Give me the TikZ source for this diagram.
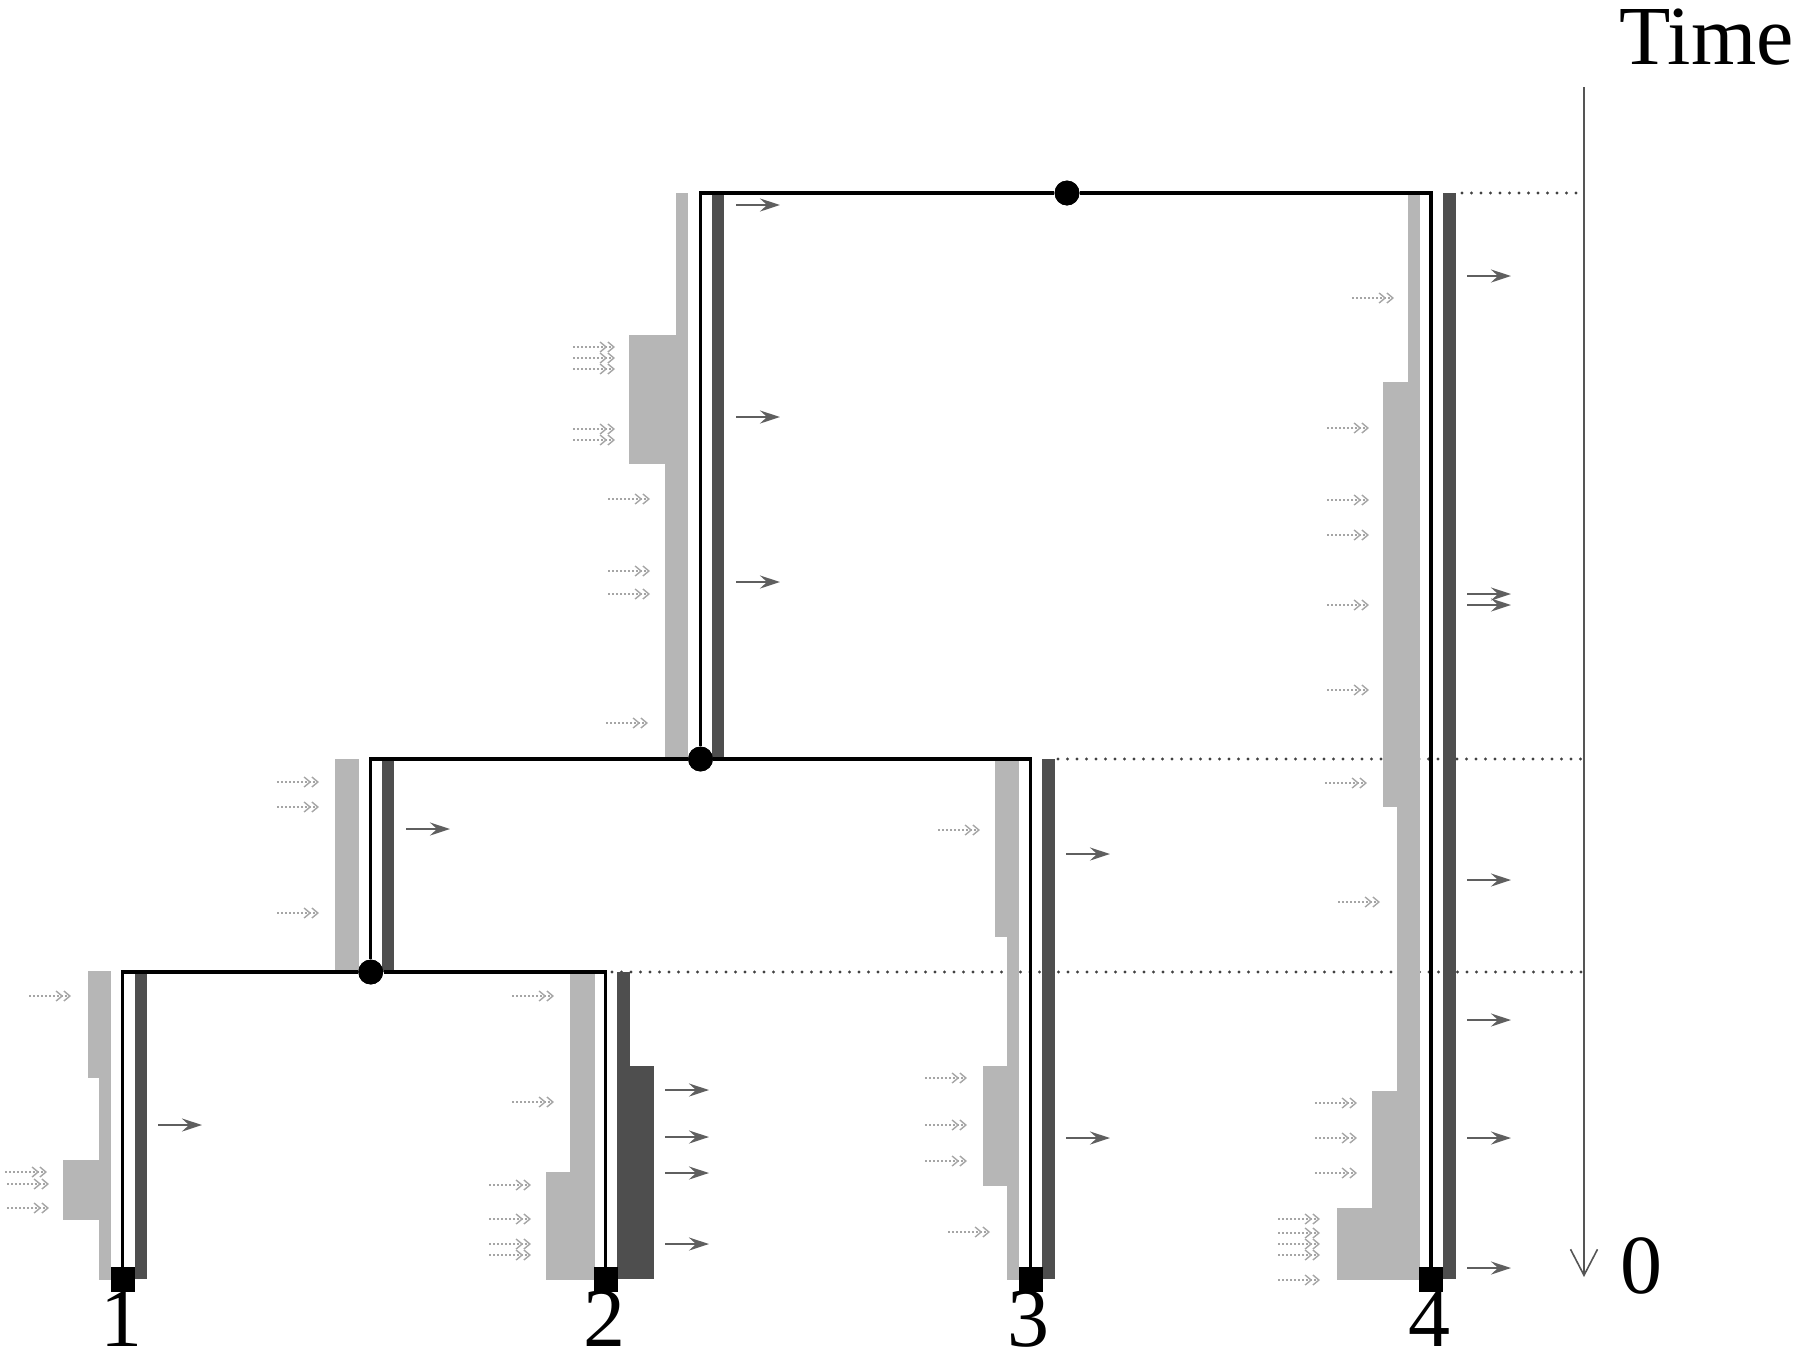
\documentclass[tikz,border=0pt]{standalone}
\usepackage{fontspec}
\setmainfont{Liberation Serif}
\usetikzlibrary{arrows.meta}
\definecolor{lightbar}{RGB}{182,182,182}
\definecolor{darkbar}{RGB}{78,78,78}
\definecolor{arrgrey}{RGB}{95,95,95}
\definecolor{inarrgrey}{RGB}{165,165,165}
\definecolor{dotgrey}{RGB}{85,85,85}
\definecolor{leveldot}{RGB}{65,65,65}
\begin{document}
\begin{tikzpicture}[x=0.5pt,y=-0.5pt,
  treeline/.style={draw=black, line width=1.6pt, line join=miter},
  treedot/.style={circle, fill=black, inner sep=0pt, minimum size=12.4pt},
  leafsq/.style={rectangle, fill=black, inner sep=0pt, minimum width=12pt, minimum height=12.5pt},
  lbar/.style={fill=lightbar},
  dbar/.style={fill=darkbar},
  dotline/.style={draw=leveldot, line width=1.7pt, line cap=round, dash pattern=on 0pt off 4.75pt},
  outarr/.style={draw=arrgrey, line width=1.3pt, -{Stealth[length=10pt,width=6.5pt,inset=3.5pt]}},
  inarr/.style={draw=inarrgrey, line width=0.7pt, dash pattern=on 1pt off 1pt, -{Straight Barb[length=3pt,width=5pt] Straight Barb[length=3pt,width=5pt]}},
  axisline/.style={draw=dotgrey, line width=0.8pt, -{Straight Barb[length=13pt,width=13.5pt]}},
  lab/.style={font=\fontsize{42}{50}\selectfont, inner sep=0pt}]
\useasboundingbox (0,0) rectangle (1800,1357);

% dotted time levels
\coordinate (d1s) at (1462,193);
\coordinate (d1e) at (1584,193);
\coordinate (d2s) at (1058,759);
\coordinate (d2e) at (1584,759);
\coordinate (d3s) at (612,972);
\coordinate (d3e) at (1584,972);
\draw[dotline] (d1s) -- (d1e);
\draw[dotline] (d2s) -- (d2e);
\draw[dotline] (d3s) -- (d3e);

% light grey bars
% lineage 1
\fill[lbar] (88,971) rectangle (111,1078);
\fill[lbar] (99,1078) rectangle (111,1160);
\fill[lbar] (63,1160) rectangle (111,1220);
\fill[lbar] (99,1220) rectangle (111,1280);
% lineage 2
\fill[lbar] (570,972) rectangle (595,1172);
\fill[lbar] (546,1172) rectangle (595,1280);
% lineage 3
\fill[lbar] (995,759) rectangle (1019.3,937);
\fill[lbar] (1006.7,937) rectangle (1019.3,1066);
\fill[lbar] (983,1066) rectangle (1019.3,1186);
\fill[lbar] (1006.7,1186) rectangle (1019.3,1280);
% lineage 4
\fill[lbar] (1408,193) rectangle (1420,382);
\fill[lbar] (1383,382) rectangle (1420,807);
\fill[lbar] (1397,807) rectangle (1420,1091);
\fill[lbar] (1372,1091) rectangle (1420,1208);
\fill[lbar] (1337,1208) rectangle (1420,1280);
% lineage B
\fill[lbar] (335,759) rectangle (359.3,972);
% lineage A
\fill[lbar] (676,193) rectangle (688,335);
\fill[lbar] (629,335) rectangle (688,464);
\fill[lbar] (665,464) rectangle (688,759);

% dark grey bars
\fill[dbar] (134.7,972) rectangle (146.7,1279);
\fill[dbar] (617,972) rectangle (630,1066);
\fill[dbar] (617,1066) rectangle (654,1279);
\fill[dbar] (1041.7,759) rectangle (1055,1279);
\fill[dbar] (1443,193) rectangle (1456,1279);
\fill[dbar] (381.7,759) rectangle (394.3,972);
\fill[dbar] (711.7,193) rectangle (724,759);

% tree
\node[treedot] (root) at (1067,193) {};
\node[treedot] (n2) at (700.5,759) {};
\node[treedot] (n1) at (370.7,972) {};
\node[leafsq] (l1) at (122.8,1279.5) {};
\node[leafsq] (l2) at (605.5,1279.5) {};
\node[leafsq] (l3) at (1030.8,1279.5) {};
\node[leafsq] (l4) at (1431,1279.5) {};
\draw[treeline] (root) -| (n2);
\draw[treeline] (root) -| (l4);
\draw[treeline] (n2) -| (n1);
\draw[treeline] (n2) -| (l3);
\draw[treeline] (n1) -| (l1);
\draw[treeline] (n1) -| (l2);
\node[treedot] at (root) {};
\node[treedot] at (n2) {};
\node[treedot] at (n1) {};

% outgoing (solid) arrows
\foreach \x/\y in {158/1125,
  665/1090, 665/1137, 665/1173, 665/1244,
  1066/854, 1066/1138,
  1467/276, 1467/594, 1467/605, 1467/880, 1467/1020, 1467/1138, 1467/1268,
  406/829,
  736/205, 736/417, 736/582}
  \draw[outarr] (\x,\y) -- ++(44,0);

% incoming (dotted) arrows
\foreach \x/\y in {29/996, 5/1172, 7/1184, 7/1208,
  512/996, 512/1102, 489/1185, 489/1219, 489/1244, 489/1255,
  938/830, 925/1078, 925/1125, 925/1161, 948/1232,
  1352/298, 1327/428, 1327/500, 1327/535, 1327/605, 1327/690, 1325/783, 1338/902,
  1315/1103, 1315/1138, 1315/1173,
  1278/1219, 1278/1233, 1278/1244, 1278/1255, 1278/1280,
  277/782, 277/807, 277/913,
  573/347, 573/358, 573/369, 573/429, 573/440,
  608/499, 608/571, 608/594, 606/723}
  \draw[inarr] (\x,\y) -- ++(42,0);

% time axis
\coordinate (tt) at (1584,87);
\coordinate (tb) at (1584,1277);
\draw[axisline] (tt) -- (tb);
\node[lab, anchor=base west] (time) at (1619,64) {Time};
\node[lab, anchor=base] (zero) at (1641,1293) {0};

% leaf labels
\node[lab, anchor=base] (lab1) at (121,1346) {1};
\node[lab, anchor=base] (lab2) at (604,1346) {2};
\node[lab, anchor=base] (lab3) at (1028,1346) {3};
\node[lab, anchor=base] (lab4) at (1429,1346) {4};
\end{tikzpicture}
\end{document}
